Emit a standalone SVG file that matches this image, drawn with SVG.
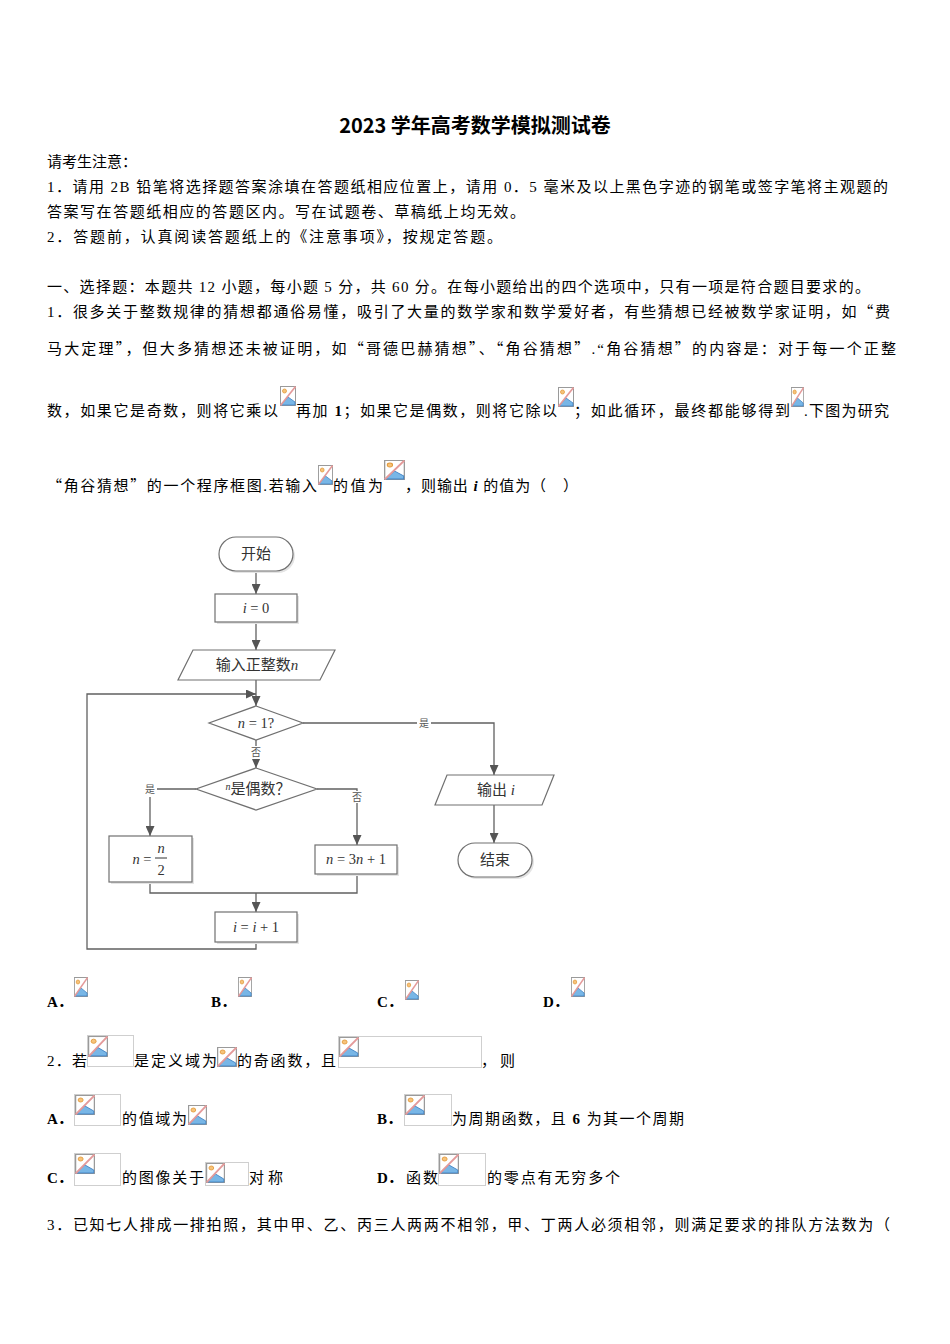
<svg xmlns="http://www.w3.org/2000/svg" xmlns:xlink="http://www.w3.org/1999/xlink" width="950" height="1344" viewBox="0 0 950 1344">
<style>
.t{font-family:"Liberation Serif","Noto Sans CJK SC",serif;font-size:15px;fill:#000}
.q{font-family:"Noto Sans CJK SC",sans-serif}
.b{font-weight:bold}
.i{font-style:italic}
.ttl{font-family:"Noto Sans CJK SC","Liberation Sans",sans-serif;font-size:20px;font-weight:bold;fill:#000}
.ft{font-family:"Liberation Serif","Noto Sans CJK SC",serif;font-size:15px;fill:#333;text-anchor:middle}
.fm{font-family:"Liberation Serif","Noto Sans CJK SC",serif;font-size:14.5px;fill:#333;text-anchor:middle}
.lb{font-family:"Liberation Serif","Noto Sans CJK SC",serif;font-size:10px;fill:#555;text-anchor:middle}
.box{fill:#fff;stroke:#707070;stroke-width:1.2}
.sh{fill:#e4e4e4;stroke:none}
.ln{fill:none;stroke:#606060;stroke-width:1.3}
.ph{fill:none;stroke:#cfcfcf;stroke-width:1}
</style>
<defs>
<marker id="ah" markerUnits="userSpaceOnUse" markerWidth="10" markerHeight="9" refX="10" refY="4.5" orient="auto">
<path d="M0,0 L10,4.5 L0,9 z" fill="#555"/>
</marker>
<symbol id="ic" viewBox="0 0 16 20" preserveAspectRatio="none">
<rect x="0.5" y="0.5" width="15" height="19" fill="#fff" stroke="#9a9a9a"/>
<circle cx="4.5" cy="5" r="2" fill="#f6c37a" stroke="#e39a3c" stroke-width="0.8"/>
<path d="M1,19 L8,11 L15,16 L15,19 z" fill="#78b6e6" stroke="#3f82c4" stroke-width="0.8"/>
<line x1="0.5" y1="19.5" x2="15.5" y2="0.5" stroke="#e49a9a" stroke-width="1.6"/>
</symbol>
</defs>
<rect width="950" height="1344" fill="#fff"/>

<text class="ttl" x="475" y="133" text-anchor="middle">2023 学年高考数学模拟测试卷</text>

<text class="t" x="47" y="167">请考生注意：</text>
<text class="t" x="47" y="192" textLength="841" lengthAdjust="spacing">1．请用 2B 铅笔将选择题答案涂填在答题纸相应位置上，请用 0．5 毫米及以上黑色字迹的钢笔或签字笔将主观题的</text>
<text class="t" x="47" y="217" textLength="478" lengthAdjust="spacing">答案写在答题纸相应的答题区内。写在试题卷、草稿纸上均无效。</text>
<text class="t" x="47" y="242" textLength="455" lengthAdjust="spacing">2．答题前，认真阅读答题纸上的《注意事项》，按规定答题。</text>

<text class="t" x="47" y="292" textLength="823" lengthAdjust="spacing">一、选择题：本题共 12 小题，每小题 5 分，共 60 分。在每小题给出的四个选项中，只有一项是符合题目要求的。</text>
<text class="t" x="47" y="317" textLength="843" lengthAdjust="spacing">1．很多关于整数规律的猜想都通俗易懂，吸引了大量的数学家和数学爱好者，有些猜想已经被数学家证明，如<tspan class="q">“</tspan>费</text>
<text class="t" x="47" y="354" textLength="849" lengthAdjust="spacing">马大定理<tspan class="q">”</tspan>，但大多猜想还未被证明，如<tspan class="q">“</tspan>哥德巴赫猜想<tspan class="q">”</tspan>、<tspan class="q">“</tspan>角谷猜想<tspan class="q">”</tspan>.“角谷猜想<tspan class="q">”</tspan>的内容是：对于每一个正整</text>

<text class="t" x="47" y="416" textLength="231" lengthAdjust="spacing">数，如果它是奇数，则将它乘以</text>
<use href="#ic" x="280" y="386" width="16" height="20"/>
<text class="t" x="296" y="416" textLength="261" lengthAdjust="spacing">再加 <tspan class="b">1</tspan>；如果它是偶数，则将它除以</text>
<use href="#ic" x="558" y="387" width="16" height="20"/>
<text class="t" x="574" y="416" textLength="216" lengthAdjust="spacing">；如此循环，最终都能够得到</text>
<use href="#ic" x="791" y="387" width="13" height="20"/>
<text class="t" x="804" y="416" textLength="85" lengthAdjust="spacing">.下图为研究</text>

<text class="t" x="47" y="491" textLength="270" lengthAdjust="spacing"><tspan class="q">“</tspan>角谷猜想<tspan class="q">”</tspan>的一个程序框图.若输入</text>
<use href="#ic" x="318" y="465" width="15" height="20"/>
<text class="t" x="333" y="491" textLength="50" lengthAdjust="spacing">的值为</text>
<use href="#ic" x="384" y="460" width="21" height="20"/>
<text class="t" x="405" y="491" textLength="173" lengthAdjust="spacing">，则输出 <tspan class="b i">i</tspan> 的值为（　）</text>

<!-- flowchart -->
<g id="connectors">
<path class="ln" d="M256,571 V594" marker-end="url(#ah)"/>
<path class="ln" d="M256,622 V650" marker-end="url(#ah)"/>
<path class="ln" d="M256,680 V706" marker-end="url(#ah)"/>
<path class="ln" d="M256,942 V949 H87 V694 H256" marker-end="url(#ah)"/>
<path class="ln" d="M303,723 H494 V775" marker-end="url(#ah)"/>
<path class="ln" d="M256,740 V768" marker-end="url(#ah)"/>
<path class="ln" d="M196,789 H157"/>
<path class="ln" d="M150,797 V836" marker-end="url(#ah)"/>
<path class="ln" d="M317,789 H357 V845" marker-end="url(#ah)"/>
<path class="ln" d="M150,882 V893 H357 V874"/>
<path class="ln" d="M256,893 V912" marker-end="url(#ah)"/>
<path class="ln" d="M494,805 V843" marker-end="url(#ah)"/>
<rect x="417" y="716" width="14" height="13" fill="#fff"/>
<text class="lb" x="424" y="727">是</text>
<rect x="250" y="746" width="12" height="13" fill="#fff"/>
<text class="lb" x="256" y="756">否</text>
<text class="lb" x="150" y="793">是</text>
<rect x="351" y="791" width="12" height="12" fill="#fff"/>
<text class="lb" x="357" y="801">否</text>
</g>

<g id="start">
<rect class="sh" x="221" y="539" width="74" height="34" rx="17"/>
<rect class="box" x="219" y="537" width="74" height="34" rx="17"/>
<text class="ft" x="256" y="559">开始</text>
</g>
<g id="init">
<rect class="sh" x="217" y="596" width="82" height="28"/>
<rect class="box" x="215" y="594" width="82" height="28"/>
<text class="fm" x="256" y="613"><tspan class="i">i</tspan> = 0</text>
</g>
<g id="input">
<polygon class="box" points="193,650 335,650 320,680 178,680"/>
<text class="ft" x="257" y="670">输入正整数<tspan class="i">n</tspan></text>
</g>
<g id="check1">
<polygon class="box" points="256,706 303,723 256,740 209,723"/>
<text class="fm" x="256" y="728"><tspan class="i">n</tspan> = 1?</text>
</g>
<g id="check2">
<polygon class="box" points="256,768 317,789 256,810 196,789"/>
<text class="ft" x="258" y="794"><tspan class="i" font-size="10px" dy="-4">n</tspan><tspan dy="4">是偶数？</tspan></text>
</g>
<g id="half">
<rect class="sh" x="111" y="838" width="83" height="46"/>
<rect class="box" x="109" y="836" width="83" height="46"/>
<text class="fm" x="142" y="864"><tspan class="i">n</tspan> =</text>
<text class="fm" x="161" y="853" font-size="15px"><tspan class="i">n</tspan></text>
<line x1="155" y1="858" x2="167" y2="858" stroke="#333" stroke-width="1"/>
<text class="fm" x="161" y="875" font-size="16px">2</text>
</g>
<g id="triple">
<rect class="sh" x="317" y="847" width="82" height="29"/>
<rect class="box" x="315" y="845" width="82" height="29"/>
<text class="fm" x="356" y="864"><tspan class="i">n</tspan> = 3<tspan class="i">n</tspan> + 1</text>
</g>
<g id="incr">
<rect class="sh" x="217" y="914" width="82" height="30"/>
<rect class="box" x="215" y="912" width="82" height="30"/>
<text class="fm" x="256" y="932"><tspan class="i">i</tspan> = <tspan class="i">i</tspan> + 1</text>
</g>
<g id="output">
<polygon class="box" points="447,775 554,775 542,805 435,805"/>
<text class="ft" x="496" y="795">输出 <tspan class="i">i</tspan></text>
</g>
<g id="end">
<rect class="sh" x="460" y="845" width="74" height="34" rx="17"/>
<rect class="box" x="458" y="843" width="74" height="34" rx="17"/>
<text class="ft" x="495" y="865">结束</text>
</g>

<!-- options -->
<text class="t b" x="47" y="1007">A．</text>
<use href="#ic" x="74" y="977" width="14" height="20"/>
<text class="t b" x="211" y="1007">B．</text>
<use href="#ic" x="238" y="977" width="14" height="20"/>
<text class="t b" x="377" y="1007">C．</text>
<use href="#ic" x="405" y="980" width="14" height="20"/>
<text class="t b" x="543" y="1007">D．</text>
<use href="#ic" x="571" y="977" width="14" height="20"/>

<text class="t" x="47" y="1066" textLength="40" lengthAdjust="spacing">2．若</text>
<rect class="ph" x="87.5" y="1035.5" width="46" height="31"/>
<use href="#ic" x="88" y="1036" width="20" height="21"/>
<text class="t" x="134" y="1066" textLength="83" lengthAdjust="spacing">是定义域为</text>
<use href="#ic" x="217" y="1047" width="20" height="20"/>
<text class="t" x="237" y="1066" textLength="99" lengthAdjust="spacing">的奇函数，且</text>
<rect class="ph" x="338.5" y="1036.5" width="143" height="31"/>
<use href="#ic" x="339" y="1037" width="20" height="20"/>
<text class="t" x="481" y="1066" textLength="34" lengthAdjust="spacing">，则</text>

<text class="t b" x="47" y="1124">A．</text>
<rect class="ph" x="74.5" y="1094.5" width="46" height="31"/>
<use href="#ic" x="75" y="1095" width="20" height="20"/>
<text class="t" x="122" y="1124" textLength="65" lengthAdjust="spacing">的值域为</text>
<use href="#ic" x="188" y="1105" width="19" height="20"/>
<text class="t b" x="377" y="1124">B．</text>
<rect class="ph" x="404.5" y="1094.5" width="47" height="31"/>
<use href="#ic" x="405" y="1095" width="20" height="20"/>
<text class="t" x="452" y="1124" textLength="232" lengthAdjust="spacing">为周期函数，且 <tspan class="b">6</tspan> 为其一个周期</text>

<text class="t b" x="47" y="1183">C．</text>
<rect class="ph" x="74.5" y="1153.5" width="46" height="32"/>
<use href="#ic" x="75" y="1154" width="20" height="20"/>
<text class="t" x="122" y="1183" textLength="82" lengthAdjust="spacing">的图像关于</text>
<rect class="ph" x="205.5" y="1162.5" width="43" height="23"/>
<use href="#ic" x="206" y="1163" width="19" height="20"/>
<text class="t" x="249" y="1183" textLength="34" lengthAdjust="spacing">对称</text>
<text class="t b" x="377" y="1183">D．</text>
<text class="t" x="406" y="1183" textLength="32" lengthAdjust="spacing">函数</text>
<rect class="ph" x="438.5" y="1153.5" width="47" height="32"/>
<use href="#ic" x="439" y="1154" width="20" height="20"/>
<text class="t" x="487" y="1183" textLength="133" lengthAdjust="spacing">的零点有无穷多个</text>

<text class="t" x="47" y="1230" textLength="843" lengthAdjust="spacing">3．已知七人排成一排拍照，其中甲、乙、丙三人两两不相邻，甲、丁两人必须相邻，则满足要求的排队方法数为（</text>
</svg>
